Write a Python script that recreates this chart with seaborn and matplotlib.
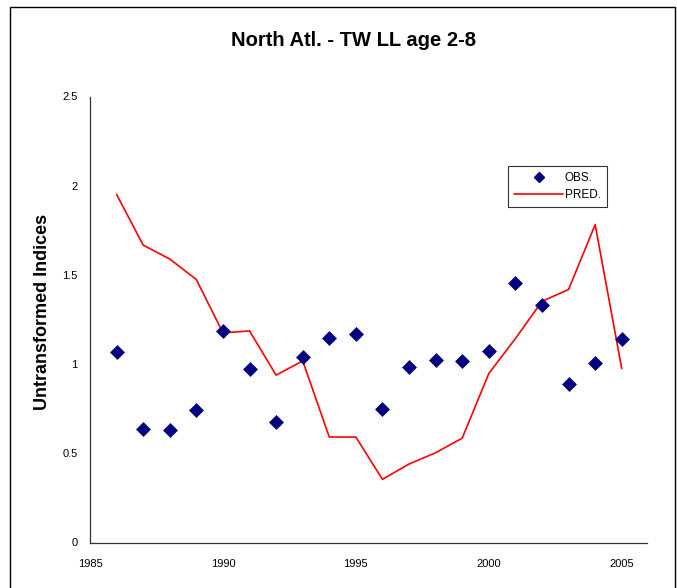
import matplotlib
matplotlib.use("Agg")
import matplotlib.pyplot as plt
from matplotlib.lines import Line2D
from matplotlib.patches import Rectangle
import seaborn as sns
import pandas as pd

years = list(range(1986, 2006))
obs = [1.068, 0.637, 0.630, 0.740, 1.188, 0.975, 0.677, 1.039, 1.149, 1.171,
       0.748, 0.983, 1.022, 1.015, 1.076, 1.455, 1.330, 0.887, 1.007, 1.139]
pred = [1.951, 1.667, 1.589, 1.474, 1.175, 1.186, 0.938, 1.018, 0.591, 0.591,
        0.354, 0.440, 0.503, 0.585, 0.947, 1.143, 1.352, 1.418, 1.782, 0.975]
x_ticks = [1985, 1990, 1995, 2000, 2005]
y_ticks = [0, 0.5, 1, 1.5, 2, 2.5]
y_tick_labels = ["0", "0.5", "1", "1.5", "2", "2.5"]

df = pd.DataFrame({"year": years, "obs": obs, "pred": pred})

sns.set_theme(style="white")
plt.rcParams["font.family"] = ["Liberation Sans", "DejaVu Sans"]
plt.rcParams["text.color"] = "black"
plt.rcParams["xtick.color"] = "black"
plt.rcParams["ytick.color"] = "black"

fig = plt.figure(figsize=(6.77, 5.88), dpi=100)
ax = fig.add_axes([90 / 677, 1 - 542.5 / 588, 557 / 677, 446 / 588])

sns.lineplot(data=df, x="year", y="pred", ax=ax, color="#ff0000", lw=1.2,
             legend=False)
sns.scatterplot(data=df, x="year", y="obs", ax=ax, marker="D", s=50,
                color="#000080", edgecolor="#000080", linewidth=0.5,
                legend=False, zorder=3)

ax.set_xlim(1985, 2005.95)
ax.set_ylim(0, 2.5)
ax.set_xticks(x_ticks)
ax.set_xticklabels([str(t) for t in x_ticks])
ax.set_yticks(y_ticks)
ax.set_yticklabels(y_tick_labels)
ax.tick_params(axis="both", labelsize=8, length=4, width=0.8,
               direction="out", color="#333333", labelcolor="black", pad=5)
ax.tick_params(axis="x", pad=8)
for side in ["top", "right"]:
    ax.spines[side].set_visible(False)
for side in ["left", "bottom"]:
    ax.spines[side].set_color("#333333")
    ax.spines[side].set_linewidth(0.9)
ax.set_xlabel("")
ax.set_ylabel("")

fig.text(353 / 677, 1 - 40 / 588, "North Atl. - TW LL age 2-8",
         ha="center", va="center", fontsize=14.5, fontweight="bold",
         color="black")
fig.text(43 / 677, 1 - 312 / 588, "Untransformed Indices", rotation=90,
         ha="center", va="center", fontsize=13, fontweight="bold",
         color="black")

handles = [
    Line2D([], [], ls="none", marker="D", ms=5, color="#000080"),
    Line2D([], [], color="#ff0000", lw=1.2),
]
leg = ax.legend(handles, ["OBS.", "PRED."], loc="upper left",
                bbox_to_anchor=(508 / 677, 1 - 166 / 588),
                bbox_transform=fig.transFigure, fontsize=8.5, frameon=True,
                fancybox=False, edgecolor="#000000", handlelength=4.2,
                handletextpad=0.1, borderpad=0.5, labelspacing=0.45,
                borderaxespad=0)
leg.get_frame().set_linewidth(0.8)
for t in leg.get_texts():
    t.set_color("black")

# outer chart-area frame
fig.patches.append(Rectangle((10 / 677, -0.02), 665 / 677, 1.02 - 7 / 588,
                             transform=fig.transFigure, fill=False,
                             edgecolor="#000000", lw=1.0))

fig.savefig("out.png", dpi=100)
